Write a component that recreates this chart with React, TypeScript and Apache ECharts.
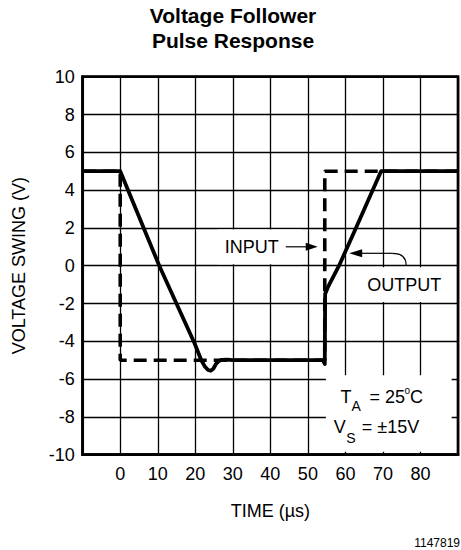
import React, { useEffect, useRef } from "react";
import * as echarts from "echarts";

// ---- data ----
const timeLabels = [0, 10, 20, 30, 40, 50, 60, 70, 80];
const inputTime = [-10, 0, 0, 54.5, 54.5, 70, 90];
const inputVolts = [5, 5, -5, -5, 5, 5, 5];
const outputTime = [-10, 0, 10.4, 19.8, 21.6, 22.6, 23.4, 24.1, 24.8, 25.5, 26.2, 27, 28.5, 30, 54, 54.5, 54.6, 55.3, 58.3, 62.6, 69.5, 90];
const outputVolts = [5, 5, 0, -4.1, -5, -5.35, -5.52, -5.56, -5.45, -5.2, -5.05, -4.98, -4.97, -5, -5, -5.2, -1.5, -1.15, 0, 1.9, 5, 5];

const FONT = '"Liberation Sans", Arial, Helvetica, sans-serif';

const zip = (xs: number[], ys: number[]) => xs.map((x, i) => [x, ys[i]]);

const titleStyle = { fontSize: 21, fontWeight: "bold", lineHeight: 21, color: "#000", fontFamily: FONT };

export default function App() {
  const ref = useRef<HTMLDivElement>(null);
  useEffect(() => {
    const chart = echarts.init(ref.current!, null, { renderer: "svg" });
    const option: any = {
      animation: false,
      backgroundColor: "#fff",
      title: [
        { text: "Voltage Follower", left: 233, top: 5, padding: 0, textAlign: "center", textStyle: titleStyle },
        { text: "Pulse Response", left: 233, top: 30, padding: 0, textAlign: "center", textStyle: titleStyle },
      ],
      grid: {
        left: 82.7,
        top: 76.7,
        right: -1.4,
        bottom: 95.3,
        show: true,
        borderColor: "#000",
        borderWidth: 2.7,
      },
      xAxis: {
        type: "value",
        min: -10,
        max: 90,
        interval: 10,
        name: "TIME (µs)",
        nameLocation: "middle",
        nameGap: 47,
        nameTextStyle: { fontSize: 18, color: "#000", fontFamily: FONT },
        axisLine: { show: true, onZero: false, lineStyle: { color: "#000", width: 2.7 } },
        axisTick: { show: false },
        axisLabel: {
          margin: 10,
          fontSize: 18,
          color: "#000",
          fontFamily: FONT,
          formatter: (v: number) => (timeLabels.includes(v) ? String(v) : ""),
        },
        splitLine: { show: true, lineStyle: { color: "#000", width: 1.3 } },
      },
      yAxis: {
        type: "value",
        min: -10,
        max: 10,
        interval: 2,
        name: "VOLTAGE SWING (V)",
        nameLocation: "middle",
        nameGap: 55,
        nameTextStyle: { fontSize: 18, color: "#000", fontFamily: FONT },
        axisLine: { show: true, onZero: false, lineStyle: { color: "#000", width: 2.7 } },
        axisTick: { show: false },
        axisLabel: { margin: 8, fontSize: 18, color: "#000", fontFamily: FONT },
        splitLine: { show: true, lineStyle: { color: "#000", width: 1.3 } },
      },
      series: [
        {
          name: "INPUT",
          type: "line",
          data: zip(inputTime, inputVolts),
          showSymbol: false,
          symbol: "none",
          lineStyle: { color: "#000", width: 3.6, type: [13, 7] },
          z: 3,
        },
        {
          name: "OUTPUT",
          type: "line",
          data: zip(outputTime, outputVolts),
          showSymbol: false,
          symbol: "none",
          lineStyle: { color: "#000", width: 3.8, join: "round" },
          z: 4,
        },
      ],
    };
    chart.setOption(option);

    const px = (x: number, y: number) => chart.convertToPixel({ gridIndex: 0 }, [x, y]) as number[];
    const txt = (text: string, x: number, y: number, size: number, align = "left") => ({
      type: "text",
      z: 20,
      x,
      y,
      style: { text, fontSize: size, fontFamily: FONT, fill: "#000", align, verticalAlign: "middle" },
    });
    const whiteBox = (a: number[], b: number[]) => ({
      type: "rect",
      z: 10,
      shape: { x: a[0], y: a[1], width: b[0] - a[0], height: b[1] - a[1] },
      style: { fill: "#fff" },
    });

    // INPUT label
    const inA = px(26, 2);
    const inB = px(48.3, 0);
    const inAnchor = px(54.5, 1);
    // OUTPUT label
    const outA = px(65.2, 0);
    const outB = px(87.8, -2);
    const outText = px(65.8, -1);
    const outArrow = px(76.2, 0);
    // conditions box
    const cA = px(54.8, -5.8);
    const cB = px(88.3, -9.85);
    const t1 = px(58.7, -7.28); // baseline of line 1 at "T"
    const t2 = px(56.9, -8.87); // baseline of line 2 at "V"

    const graphics: any[] = [
      whiteBox([inA[0], inA[1] + 1.5], [inB[0], inB[1] - 1.5]),
      txt("INPUT", inAnchor[0] - 46, inAnchor[1], 18, "right"),
      {
        type: "line",
        z: 20,
        shape: { x1: inAnchor[0] - 39, y1: inAnchor[1], x2: inAnchor[0] - 17, y2: inAnchor[1] },
        style: { stroke: "#000", lineWidth: 1.2 },
      },
      {
        type: "polygon",
        z: 20,
        shape: {
          points: [
            [inAnchor[0] - 7, inAnchor[1]],
            [inAnchor[0] - 19, inAnchor[1] - 4],
            [inAnchor[0] - 19, inAnchor[1] + 4],
          ],
        },
        style: { fill: "#000" },
      },
      whiteBox([outA[0], outA[1] + 1.5], [outB[0], outB[1] - 1.5]),
      txt("OUTPUT", outText[0], outText[1], 18, "left"),
      {
        type: "bezierCurve",
        z: 20,
        shape: {
          x1: outArrow[0],
          y1: outArrow[1] - 0.5,
          cpx1: outArrow[0],
          cpy1: outArrow[1] - 9,
          cpx2: outArrow[0] - 5,
          cpy2: outArrow[1] - 12.4,
          x2: outArrow[0] - 14,
          y2: outArrow[1] - 12.4,
        },
        style: { stroke: "#000", lineWidth: 1.2, fill: "none" },
      },
      {
        type: "line",
        z: 20,
        shape: { x1: outArrow[0] - 14, y1: outArrow[1] - 12.4, x2: outArrow[0] - 45, y2: outArrow[1] - 12.4 },
        style: { stroke: "#000", lineWidth: 1.2 },
      },
      {
        type: "polygon",
        z: 20,
        shape: {
          points: [
            [outArrow[0] - 57, outArrow[1] - 12.4],
            [outArrow[0] - 44, outArrow[1] - 16.4],
            [outArrow[0] - 44, outArrow[1] - 8.4],
          ],
        },
        style: { fill: "#000" },
      },
      whiteBox(cA, cB),
      txt("T", t1[0], t1[1] - 6.2, 18),
      txt("A", t1[0] + 11, t1[1] + 7.4 - 4.85, 14),
      txt("= 25", t1[0] + 29, t1[1] - 6.2, 18),
      txt("o", t1[0] + 64, t1[1] - 13, 10),
      txt("C", t1[0] + 69.5, t1[1] - 6.2, 18),
      txt("V", t2[0], t2[1] - 6.2, 18),
      txt("S", t2[0] + 12.5, t2[1] + 10 - 4.85, 14),
      txt("= ±15V", t2[0] + 28, t2[1] - 6.2, 18),
      {
        type: "text",
        z: 20,
        right: 1,
        bottom: 1,
        style: { text: "1147819", fontSize: 12, fontFamily: FONT, fill: "#000" },
      },
    ];
    chart.setOption({ graphic: graphics });

    return () => chart.dispose();
  }, []);
  return <div ref={ref} style={{ position: "fixed", left: 0, top: 0, width: 461, height: 550 }} />;
}
